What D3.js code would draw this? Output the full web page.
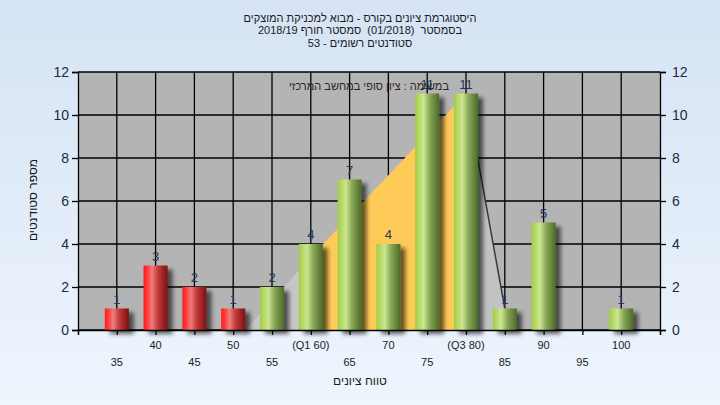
<!DOCTYPE html>
<html><head><meta charset="utf-8">
<script src="https://cdn.jsdelivr.net/npm/d3@7"></script>
<style>html,body{margin:0;padding:0;}svg{display:block;}</style>
</head><body>
<script>
// ---- data ----
const categories = [35,40,45,50,55,60,65,70,75,80,85,90,95,100];
const tickLabels = ["35","40","45","50","55","(Q1 60)","65","70","75","(Q3 80)","85","90","95","100"];
const counts = [1,3,2,1,2,4,7,4,11,11,1,5,0,1];
const failLimit = 55; // below this: red bars
// trend area (x in grade units, y in students)
const trendLowX = [51.6, 60], trendLowY = [0, 3.4];
const trendMidX = [60, 80], trendMidY = [3.4, 11];
const trendHighX = [80, 85], trendHighY = [11, 1];
const titleLines = ["היסטוגרמת ציונים בקורס - מבוא למכניקת המוצקים","בסמסטר  (01/2018)  סמסטר חורף 2018/19","סטודנטים רשומים - 53"];
const note = "במשימה : ציון סופי במחשב המרכזי";
const xTitle = "טווח ציונים", yTitle = "מספר סטודנטים";
const yTicks = [0,2,4,6,8,10,12];

const W=720,H=405;
const font = "'Liberation Sans', Arial, 'DejaVu Sans', sans-serif";
const svg = d3.select("body").append("svg").attr("width",W).attr("height",H).style("font-family",font);
const defs = svg.append("defs");
const bg = defs.append("linearGradient").attr("id","bg").attr("x1",0).attr("y1",0).attr("x2",0).attr("y2",1);
bg.append("stop").attr("offset","0%").attr("stop-color","#d5e3f4");
bg.append("stop").attr("offset","100%").attr("stop-color","#eef5fd");
function cyl(id, stops){
  const g = defs.append("linearGradient").attr("id",id).attr("x1",0).attr("y1",0).attr("x2",1).attr("y2",0);
  stops.forEach(s=>g.append("stop").attr("offset",s[0]).attr("stop-color",s[1]));
}
cyl("red",[["0%","#ff1c1c"],["15%","#ff3838"],["35%","#f07c7c"],["60%","#c23a3a"],["100%","#7a1212"]]);
cyl("green",[["0%","#a2cc44"],["15%","#b4d866"],["35%","#cce690"],["60%","#8aa858"],["100%","#4c6a26"]]);
const f = defs.append("filter").attr("id","sh").attr("x","-30%").attr("y","-30%").attr("width","180%").attr("height","180%");
f.append("feDropShadow").attr("dx",5).attr("dy",4).attr("stdDeviation",2.2).attr("flood-color","#000").attr("flood-opacity",0.6);

svg.append("rect").attr("width",W).attr("height",H).attr("fill","url(#bg)");

const x = d3.scaleLinear().domain([30,105]).range([78,660]);
const y = d3.scaleLinear().domain([0,12]).range([330,72]);

svg.append("rect").attr("x",x(30)).attr("y",y(12)).attr("width",x(105)-x(30)).attr("height",y(0)-y(12)).attr("fill","#b4b4b4");

// grid
const grid = svg.append("g").attr("stroke","#000").attr("stroke-width",1.3);
grid.selectAll("line.h").data(yTicks).join("line").attr("x1",x(30)).attr("x2",x(105)).attr("y1",d=>y(d)).attr("y2",d=>y(d));
grid.selectAll("line.v").data(categories).join("line").attr("x1",d=>x(d)).attr("x2",d=>x(d)).attr("y1",y(0)).attr("y2",y(12));

// trend areas
function pts(xs,ys){return xs.map((v,i)=>[v,ys[i]]);}
const area = d3.area().x(d=>x(d[0])).y0(y(0)).y1(d=>y(d[1]));
svg.append("path").datum(pts(trendLowX,trendLowY)).attr("d",area).attr("fill","#c6c6c6");
svg.append("path").datum(pts(trendMidX,trendMidY)).attr("d",area).attr("fill","#ffcb58");
svg.append("path").datum(pts(trendHighX,trendHighY)).attr("d",area).attr("fill","#c2c2c2");
svg.append("path").datum(pts(trendHighX,trendHighY)).attr("d",d3.line().x(d=>x(d[0])).y(d=>y(d[1])))
  .attr("fill","none").attr("stroke","#3a3a3a").attr("stroke-width",1.5);

// bars
const step = x(35)-x(30);
const bw = step*0.62;
const bars = categories.map((c,i)=>({c, v:counts[i]})).filter(d=>d.v>0);
svg.append("g").selectAll("rect").data(bars).join("rect")
  .attr("x",d=>x(d.c)-bw/2).attr("width",bw)
  .attr("y",d=>y(d.v)).attr("height",d=>y(0)-y(d.v))
  .attr("fill",d=>d.c<failLimit?"url(#red)":"url(#green)")
  .attr("filter","url(#sh)");
svg.append("g").selectAll("text").data(bars).join("text")
  .attr("x",d=>x(d.c)).attr("y",d=>y(d.v)-5).attr("text-anchor","middle")
  .attr("font-size",13).attr("fill","#25395c").text(d=>d.v);

// note
svg.append("text").attr("x",369).attr("y",90).attr("text-anchor","middle").attr("direction","rtl")
  .attr("font-size",11).attr("fill","#2a2424").text(note);

// axes
const axL = svg.append("g").attr("transform",`translate(${x(30)},0)`).call(d3.axisLeft(y).tickValues(yTicks).tickSize(6).tickPadding(3));
const axR = svg.append("g").attr("transform",`translate(${x(105)},0)`).call(d3.axisRight(y).tickValues(yTicks).tickSize(6).tickPadding(6));
[axL,axR].forEach(a=>{a.selectAll("text").attr("font-size",14).attr("fill","#1c2a40").style("font-family",font);
  a.selectAll("line,path").attr("stroke","#000").attr("stroke-width",1.3);});
const axB = svg.append("g").attr("transform",`translate(0,${y(0)})`)
  .call(d3.axisBottom(x).tickValues(d3.range(30,106,5)).tickSize(5).tickFormat(""));
axB.selectAll("line,path").attr("stroke","#000").attr("stroke-width",1.3);
svg.append("g").selectAll("text").data(categories).join("text")
  .attr("x",d=>x(d)).attr("y",(d,i)=>i%2===0?366:349).attr("text-anchor","middle")
  .attr("font-size",11).attr("fill","#222").text((d,i)=>tickLabels[i]);

// titles
svg.append("g").selectAll("text").data(titleLines).join("text")
  .attr("x",360).attr("y",(d,i)=>21.5+i*12.5).attr("text-anchor","middle").attr("direction","rtl")
  .attr("font-size",11).attr("fill","#1a1a1a").style("white-space","pre").text(d=>d);
svg.append("text").attr("x",360).attr("y",385).attr("text-anchor","middle").attr("direction","rtl")
  .attr("font-size",12).attr("fill","#1a1a1a").text(xTitle);
svg.append("text").attr("transform","translate(37,200) rotate(-90)").attr("text-anchor","middle").attr("direction","rtl")
  .attr("font-size",12).attr("fill","#1a1a1a").text(yTitle);
</script>
</body></html>
